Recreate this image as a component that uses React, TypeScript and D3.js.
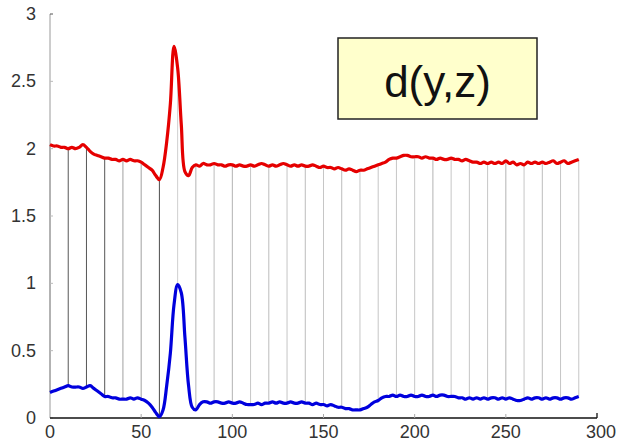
import React from "react";
import * as d3 from "d3";

// Sample positions (every 2 samples) shared by both signals
const sampleX: number[] = d3.range(0, 291, 2);

// Upper signal y, shifted up
const ySeries: number[] = [
  2.03, 2.02, 2.02, 2.01, 2.01, 2.0, 2.01, 2.0, 2.01, 2.03,
  2.01, 1.98, 1.96, 1.95, 1.94, 1.93, 1.93, 1.92, 1.92, 1.91,
  1.92, 1.91, 1.92, 1.91, 1.91, 1.9, 1.88, 1.86, 1.84, 1.8,
  1.77, 1.86, 2.05, 2.33, 2.76, 2.6, 2.18, 1.83, 1.8, 1.86,
  1.88, 1.87, 1.89, 1.88, 1.88, 1.89, 1.88, 1.88, 1.87, 1.88,
  1.88, 1.87, 1.88, 1.87, 1.87, 1.88, 1.87, 1.88, 1.89, 1.88,
  1.87, 1.88, 1.87, 1.88, 1.89, 1.88, 1.87, 1.88, 1.87, 1.88,
  1.87, 1.87, 1.88, 1.87, 1.86, 1.87, 1.86, 1.86, 1.85, 1.86,
  1.85, 1.84, 1.85, 1.84, 1.83, 1.84, 1.84, 1.85, 1.86, 1.87,
  1.88, 1.89, 1.9, 1.92, 1.93, 1.93, 1.94, 1.95, 1.95, 1.94,
  1.94, 1.94, 1.93, 1.94, 1.93, 1.93, 1.92, 1.93, 1.92, 1.92,
  1.93, 1.92, 1.92, 1.91, 1.92, 1.91, 1.9, 1.9, 1.89, 1.9,
  1.89, 1.9, 1.89, 1.9, 1.89, 1.91, 1.89, 1.9, 1.88, 1.89,
  1.88, 1.9, 1.89, 1.9, 1.89, 1.9, 1.89, 1.9, 1.91, 1.89,
  1.9, 1.91, 1.89, 1.9, 1.91, 1.92,
];

// Lower signal z
const zSeries: number[] = [
  0.19, 0.2, 0.21, 0.22, 0.23, 0.24, 0.23, 0.23, 0.23, 0.22,
  0.23, 0.24, 0.22, 0.2, 0.18, 0.16, 0.16, 0.15, 0.15, 0.14,
  0.14, 0.14, 0.15, 0.14, 0.15, 0.14, 0.13, 0.11, 0.08, 0.04,
  0.01, 0.06, 0.24, 0.48, 0.84, 0.99, 0.93, 0.6, 0.24, 0.08,
  0.06, 0.1, 0.12, 0.12, 0.11, 0.12, 0.12, 0.11, 0.11, 0.12,
  0.11, 0.11, 0.12, 0.11, 0.1, 0.1, 0.1, 0.11, 0.1, 0.11,
  0.11, 0.12, 0.11, 0.12, 0.11, 0.11, 0.12, 0.11, 0.11, 0.12,
  0.11, 0.11, 0.1, 0.11, 0.1, 0.1, 0.09, 0.1, 0.09, 0.08,
  0.08, 0.07, 0.07, 0.06, 0.06, 0.06, 0.07, 0.08, 0.1, 0.12,
  0.13, 0.15, 0.16, 0.16, 0.17, 0.16, 0.17, 0.16, 0.16, 0.17,
  0.16, 0.16, 0.17, 0.16, 0.16, 0.17, 0.16, 0.17, 0.17, 0.16,
  0.16, 0.16, 0.15, 0.15, 0.14, 0.15, 0.14, 0.15, 0.14, 0.15,
  0.14, 0.15, 0.15, 0.14, 0.15, 0.14, 0.15, 0.14, 0.13, 0.13,
  0.14, 0.15, 0.14, 0.15, 0.15, 0.14, 0.15, 0.14, 0.15, 0.15,
  0.14, 0.15, 0.15, 0.14, 0.15, 0.16,
];

// Point-to-point correspondences between y and z
const linkX: number[] = [
  0, 10, 20, 30, 40, 50, 60, 70, 80, 90, 100, 110, 120, 130, 140,
  150, 160, 170, 180, 190, 200, 210, 220, 230, 240, 250, 260, 270, 280, 290,
];
// Relative strength of each correspondence (drawn darker when stronger)
const linkStrength: number[] = [
  0.5, 0.85, 0.85, 0.85, 0.45, 0.45, 0.9, 0.2, 0.35, 0.3, 0.35, 0.25, 0.3, 0.25, 0.3,
  0.25, 0.3, 0.25, 0.25, 0.25, 0.25, 0.35, 0.25, 0.25, 0.25, 0.35, 0.25, 0.3, 0.25, 0.25,
];

const xTicks: number[] = [0, 50, 100, 150, 200, 250, 300];
const yTicks: number[] = [0, 0.5, 1, 1.5, 2, 2.5, 3];
const boxLabel = "d(y,z)";

const W = 620;
const H = 445;
const FONT = "'Liberation Sans', Arial, Helvetica, sans-serif";

export default function App() {
  const x = d3.scaleLinear().domain([0, 300]).range([50, 597]);
  const y = d3.scaleLinear().domain([0, 3]).range([418, 14]);
  const shade = d3
    .scaleLinear<string>()
    .domain([0, 1])
    .range(["#f4f4f4", "#3a3a3a"]);

  const line = d3
    .line<number>()
    .x((_, i) => x(sampleX[i]))
    .y((v) => y(v))
    .curve(d3.curveCatmullRom.alpha(0.5));

  const valueAt = (series: number[], xv: number) =>
    series[sampleX.indexOf(xv)];

  return (
    <div style={{ position: "absolute", left: 0, top: 0 }}>
      <svg width={W} height={H} style={{ display: "block", background: "#fff" }}>
        {/* correspondence links */}
        {linkX.map((lx, i) => (
          <line
            key={"l" + lx}
            x1={x(lx)}
            x2={x(lx)}
            y1={y(valueAt(ySeries, lx))}
            y2={y(valueAt(zSeries, lx))}
            stroke={shade(linkStrength[i])}
            strokeWidth={1}
          />
        ))}

        {/* y axis */}
        <line x1={x(0)} x2={x(0)} y1={y(3)} y2={y(0)} stroke="#9a9a9a" strokeWidth={1} />
        {yTicks.map((t) => (
          <line
            key={"yt" + t}
            x1={x(0)}
            x2={x(0) + 3}
            y1={y(t)}
            y2={y(t)}
            stroke={t === 3 ? "#555" : "#bbb"}
            strokeWidth={1}
          />
        ))}
        {yTicks.map((t) => (
          <text
            key={"yl" + t}
            x={36}
            y={y(t) + 6}
            textAnchor="end"
            fontFamily={FONT}
            fontSize={18}
            fill="#333"
          >
            {t}
          </text>
        ))}

        {/* x axis */}
        <line x1={x(0)} x2={x(300)} y1={y(0)} y2={y(0)} stroke="#111" strokeWidth={1.3} />
        <line x1={x(300)} x2={x(300)} y1={y(0)} y2={y(0) - 5} stroke="#111" strokeWidth={1.3} />
        {xTicks
          .filter((t) => t > 0 && t < 300)
          .map((t) => (
            <line
              key={"xt" + t}
              x1={x(t)}
              x2={x(t)}
              y1={y(0)}
              y2={y(0) - 4}
              stroke="#aaa"
              strokeWidth={1}
            />
          ))}
        {xTicks.map((t) => (
          <text
            key={"xl" + t}
            x={x(t) + (t === 300 ? 4 : 0)}
            y={438}
            textAnchor="middle"
            fontFamily={FONT}
            fontSize={18}
            fill="#333"
          >
            {t}
          </text>
        ))}

        {/* signals */}
        <path
          d={line(ySeries) || ""}
          fill="none"
          stroke="#e50000"
          strokeWidth={3.2}
          strokeLinejoin="round"
        />
        <path
          d={line(zSeries) || ""}
          fill="none"
          stroke="#0000dd"
          strokeWidth={3.2}
          strokeLinejoin="round"
        />

        {/* distance label */}
        <rect x={338} y={38} width={199} height={81} fill="#ffffcc" stroke="#222" strokeWidth={1.5} />
        <text
          x={437.5}
          y={97}
          textAnchor="middle"
          fontFamily={FONT}
          fontSize={44}
          fill="#111"
        >
          {boxLabel}
        </text>
      </svg>
    </div>
  );
}
